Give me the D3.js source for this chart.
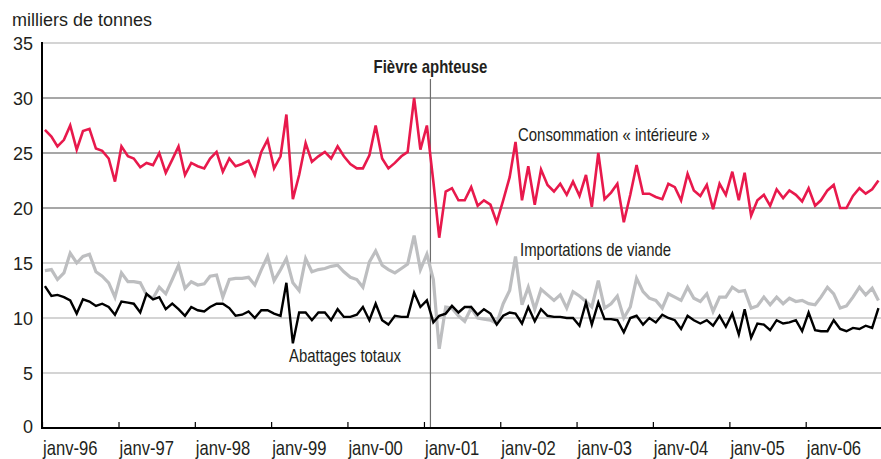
<html>
  <head>
    <script src="https://d3js.org/d3.v7.min.js"></script>
    <style>
      body { margin: 0; background: #fff; }
      text { font-family: "Liberation Sans", Arial, sans-serif; fill: #231f20; }
    </style>
  </head>
  <body>
    <svg width="881" height="459" id="chart"></svg>
    <script>
      // monthly values from janv-96 to déc-06, in milliers de tonnes
      const consommation = [
        27.1, 26.5, 25.6, 26.2, 27.5, 25.3, 27.0, 27.2, 25.4, 25.2, 24.5, 22.4,
        25.6, 24.7, 24.5, 23.7, 24.1, 23.9, 25.0, 23.2, 24.4, 25.6, 23.0, 24.1,
        23.8, 23.6, 24.5, 25.1, 23.3, 24.5, 23.8, 24.0, 24.3, 23.0, 25.1, 26.2,
        23.6, 24.7, 28.5, 20.8, 23.0, 25.9, 24.2, 24.7, 25.1, 24.5, 25.6, 24.7,
        24.0, 23.6, 23.6, 24.8, 27.5, 24.5, 23.6, 24.1, 24.7, 25.1, 30.0, 25.3,
        27.5, 22.4, 17.3, 21.5, 21.8, 20.7, 20.7, 21.9, 20.2, 20.7, 20.3, 18.7,
        20.7, 22.8, 26.0, 20.7, 23.8, 20.3, 23.5, 22.1, 21.5, 22.2, 21.2, 22.4,
        21.1, 23.0, 20.1, 25.0, 20.8, 21.4, 22.2, 18.7, 21.2, 23.9, 21.3, 21.3,
        21.0, 20.8, 22.2, 21.9, 20.7, 23.1, 21.6, 21.1, 22.1, 19.9, 22.2, 21.2,
        23.3, 20.7, 23.2, 19.3, 20.7, 21.2, 20.2, 21.7, 20.9, 21.6, 21.2, 20.6,
        21.8, 20.2, 20.7, 21.6, 22.1, 20.0, 20.0, 21.1, 21.8, 21.3, 21.7, 22.5
      ];
      const importations = [
        14.3, 14.4, 13.5, 14.1, 15.9, 15.0, 15.6, 15.8, 14.2, 13.8, 13.2, 11.9,
        14.1, 13.3, 13.3, 13.2, 12.1, 11.8, 12.8, 12.2, 13.5, 14.8, 12.7, 13.3,
        13.0, 13.1, 13.8, 13.9, 11.9, 13.5, 13.6, 13.6, 13.7, 13.0, 14.4, 15.6,
        13.4, 14.4, 15.4, 13.2, 12.5, 15.4, 14.2, 14.4, 14.5, 14.7, 14.8, 14.2,
        13.7, 13.5, 12.8, 15.1, 16.1, 14.8, 14.4, 14.1, 14.5, 14.9, 17.5, 14.4,
        15.8, 13.5, 7.2, 11.0, 10.9, 10.2, 9.7, 10.9, 10.0, 9.9, 9.8, 9.5,
        11.3, 12.5, 15.6, 11.2, 12.8, 10.8, 12.6, 12.1, 11.6, 12.1, 10.9, 12.4,
        12.0, 11.5, 11.0, 13.4, 10.9, 11.3, 12.0, 10.0, 11.0, 13.6, 12.4, 11.8,
        11.6, 10.9, 12.2, 11.9, 11.6, 12.8, 11.8, 11.5, 12.2, 10.6, 11.9, 11.9,
        12.8, 12.4, 12.5, 10.9, 11.1, 11.9, 11.2, 11.9, 11.3, 11.8, 11.5, 11.6,
        11.3, 11.2, 11.9, 12.8, 12.2, 10.9, 11.1, 11.9, 12.8, 12.1, 12.7, 11.6
      ];
      const abattages = [
        12.9, 12.0, 12.1, 11.9, 11.6, 10.4, 11.7, 11.5, 11.1, 11.3, 11.0, 10.3,
        11.5, 11.4, 11.3, 10.5, 12.2, 11.7, 11.9, 10.8, 11.3, 10.8, 10.2, 11.0,
        10.7, 10.6, 11.0, 11.3, 11.3, 10.9, 10.2, 10.3, 10.6, 10.0, 10.7, 10.7,
        10.4, 10.2, 13.2, 7.7, 10.5, 10.5, 9.8, 10.5, 10.5, 9.8, 10.8, 10.1,
        10.1, 10.3, 11.0, 9.8, 11.3, 9.8, 9.4, 10.2, 10.1, 10.1, 12.3, 11.0,
        11.6, 9.6, 10.2, 10.4, 11.1, 10.5, 11.0, 11.0, 10.3, 10.8, 10.4, 9.4,
        10.2, 10.5, 10.4, 9.5, 11.0, 9.7, 10.8, 10.2, 10.1, 10.1, 10.0, 10.0,
        9.3, 11.4, 9.4, 11.4, 9.9, 9.9, 9.8, 8.7, 10.0, 10.2, 9.4, 10.0,
        9.6, 10.3, 10.0, 9.8, 9.0, 10.2, 9.8, 9.5, 9.8, 9.3, 10.2, 9.2,
        10.4, 8.5, 10.8, 8.2, 9.5, 9.4, 8.9, 9.8, 9.5, 9.6, 9.8, 8.8,
        10.5, 8.9, 8.8, 8.8, 9.8, 9.0, 8.8, 9.1, 9.0, 9.3, 9.1, 10.9
      ];
      const yTicks = [0, 5, 10, 15, 20, 25, 30, 35];
      const xTickLabels = ["janv-96", "janv-97", "janv-98", "janv-99", "janv-00", "janv-01",
                           "janv-02", "janv-03", "janv-04", "janv-05", "janv-06"];
      const unitLabel = "milliers de tonnes";
      const eventLabel = "Fièvre aphteuse";
      const eventDate = new Date(2001, 1, 1);
      const seriesNames = ["Consommation « intérieure »", "Importations de viande", "Abattages totaux"];

      const svg = d3.select("svg#chart");
      const months = consommation.map((d, i) => new Date(1996, i, 15));

      const xScale = d3.scaleTime()
        .domain([new Date(1996, 0, 1), new Date(2007, 0, 1)])
        .range([42, 882]);
      const yScale = d3.scaleLinear().domain([0, 35]).range([428, 43]);

      // condensed text (no narrow font installed, so squeeze it)
      const squeeze = 0.83;
      function narrowText(x, y, str, size) {
        return svg.append("text")
          .attr("transform", `translate(${x}, ${y}) scale(${squeeze}, 1)`)
          .style("font-size", size + "px")
          .text(str);
      }

      // horizontal grid lines, darker ones around the consumption series
      yTicks.filter((t) => t > 0).forEach((t) => {
        const dark = t >= 20 && t <= 30;
        svg.append("line")
          .attr("x1", 42).attr("x2", 881)
          .attr("y1", yScale(t)).attr("y2", yScale(t))
          .style("stroke", dark ? "#8a8a8a" : "#c6c6c6")
          .style("stroke-width", dark ? 1.3 : 1.6);
      });

      // y labels
      yTicks.forEach((t) => {
        svg.append("text")
          .attr("x", 33)
          .attr("y", yScale(t) + (t === 0 ? 4.5 : 7))
          .attr("text-anchor", "end")
          .style("font-size", "18px")
          .text(t);
      });

      svg.append("text")
        .attr("x", 12).attr("y", 26)
        .style("font-size", "18px")
        .text(unitLabel);

      // foot and mouth marker
      svg.append("line")
        .attr("x1", xScale(eventDate)).attr("x2", xScale(eventDate))
        .attr("y1", 79).attr("y2", 428)
        .style("stroke", "#6d6d6d")
        .style("stroke-width", 1.2);
      narrowText(xScale(eventDate), 73, eventLabel, 18)
        .attr("text-anchor", "middle")
        .style("font-weight", "bold");

      // series
      const line = d3.line()
        .x((d, i) => xScale(months[i]))
        .y((d) => yScale(d));

      svg.append("path")
        .datum(importations)
        .attr("d", line)
        .style("fill", "none")
        .style("stroke", "#bdbec0")
        .style("stroke-width", 3.2);
      svg.append("path")
        .datum(abattages)
        .attr("d", line)
        .style("fill", "none")
        .style("stroke", "#000")
        .style("stroke-width", 2.4);
      svg.append("path")
        .datum(consommation)
        .attr("d", line)
        .style("fill", "none")
        .style("stroke", "#e8194c")
        .style("stroke-width", 2.6);

      // series labels
      const labelPos = [[518, 141], [520, 256], [289, 362]];
      seriesNames.forEach((name, i) => {
        narrowText(labelPos[i][0], labelPos[i][1], name, 18);
      });

      // x axis: year ticks pointing up, labels to the right of each tick
      const years = xTickLabels.map((d, i) => new Date(1996 + i, 0, 1));
      const axisBottom = d3.axisBottom(xScale)
        .tickValues(years)
        .tickSizeInner(-6)
        .tickSizeOuter(0)
        .tickFormat("");
      const xAxis = svg.append("g")
        .attr("transform", "translate(0, 428)")
        .call(axisBottom);
      xAxis.select(".domain").remove();
      xAxis.selectAll(".tick line").style("stroke", "#000").style("stroke-width", 1.2);

      years.forEach((d, i) => {
        narrowText(xScale(d) + 1, 455, xTickLabels[i], 20);
      });

      svg.append("line")
        .attr("x1", 42).attr("x2", 881)
        .attr("y1", 428).attr("y2", 428)
        .style("stroke", "#000")
        .style("stroke-width", 2);
      svg.append("line")
        .attr("x1", 42).attr("x2", 42)
        .attr("y1", 42).attr("y2", 429)
        .style("stroke", "#000")
        .style("stroke-width", 2);
    </script>
  </body>
</html>
